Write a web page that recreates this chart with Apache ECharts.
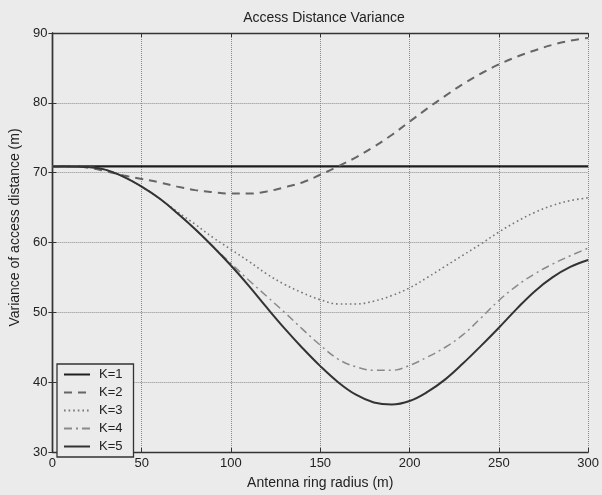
<!DOCTYPE html>
<html>
<head>
<meta charset="utf-8">
<script src="https://cdn.jsdelivr.net/npm/echarts@6/dist/echarts.min.js"></script>
<style>
html,body{margin:0;padding:0;background:#ebebeb;}
#chart{width:602px;height:495px;}
</style>
</head>
<body>
<div id="chart"></div>
<script>
var radius = [0,10,20,30,40,50,60,70,80,90,100,110,120,130,140,150,160,170,180,190,200,210,220,230,240,250,260,270,280,290,300];
var k1 = [70.9,70.9,70.9,70.9,70.9,70.9,70.9,70.9,70.9,70.9,70.9,70.9,70.9,70.9,70.9,70.9,70.9,70.9,70.9,70.9,70.9,70.9,70.9,70.9,70.9,70.9,70.9,70.9,70.9,70.9,70.9];
var k2 = [70.9,70.9,70.7,70.2,69.6,69.1,68.6,68.0,67.5,67.2,67.0,67.0,67.3,67.9,68.6,69.7,70.9,72.2,73.7,75.4,77.3,79.2,81.0,82.7,84.2,85.5,86.6,87.5,88.3,88.9,89.3];
var k3 = [70.9,70.9,70.8,70.4,69.4,68.0,66.3,64.4,62.6,60.7,59.0,57.3,55.5,54.0,52.8,51.8,51.2,51.2,51.6,52.4,53.5,55.0,56.6,58.2,59.8,61.5,63.0,64.3,65.3,66.0,66.4];
var k4 = [70.9,70.9,70.8,70.4,69.4,68.0,66.3,64.2,61.9,59.4,57.0,54.6,52.3,50.0,47.6,45.3,43.3,42.2,41.7,41.7,42.4,43.6,45.0,46.8,49.2,51.7,53.8,55.5,56.9,58.1,59.2];
var k5 = [70.9,70.9,70.8,70.4,69.4,68.0,66.3,64.2,61.9,59.4,56.7,53.8,50.7,47.7,44.9,42.3,40.0,38.2,37.1,36.8,37.3,38.6,40.4,42.7,45.2,47.8,50.5,53.0,55.0,56.5,57.5];
var xTicks = [0,50,100,150,200,250,300];
var yTicks = [30,40,50,60,70,80,90];

function pairs(ys){ return radius.map(function(x,i){ return [x, ys[i]]; }); }

var font = 'Liberation Sans, Arial, Helvetica, sans-serif';
var chart = echarts.init(document.getElementById('chart'), null, {renderer:'canvas'});
var frame = {lineStyle:{color:'#333', width:1.4}};
var tick = {inside:true, length:4, lineStyle:{color:'#333'}};
chart.setOption({
  backgroundColor:'#ebebeb',
  animation:false,
  title:{text:'Access Distance Variance', left:319, top:6, textAlign:'center',
    textStyle:{fontFamily:font, fontSize:14, fontWeight:'normal', color:'#222'}},
  grid:{left:51, right:13, top:33, bottom:38, containLabel:false},
  legend:{orient:'vertical', left:57, top:364, itemWidth:26, itemHeight:12, itemGap:5,
    padding:[4,11,4,6], borderColor:'#333', borderWidth:1.3, backgroundColor:'#ebebeb',
    itemStyle:{opacity:0, borderWidth:0},
    textStyle:{fontFamily:font, fontSize:13, color:'#222', padding:[0,0,0,4]},
    data:['K=1','K=2','K=3','K=4','K=5']},
  xAxis:[{type:'value', min:xTicks[0], max:xTicks[xTicks.length-1], interval:50,
    name:'Antenna ring radius (m)', nameLocation:'middle', nameGap:24,
    nameTextStyle:{fontFamily:font, fontSize:14, color:'#222'},
    axisLine:frame, axisTick:tick,
    axisLabel:{fontFamily:font, fontSize:13, color:'#222', margin:5},
    splitLine:{show:true, lineStyle:{type:'dotted', color:'#8a8a8a', width:1}}},
   {type:'value', position:'top', min:0, max:300, interval:50,
    axisLine:frame, axisTick:tick, axisLabel:{show:false}, splitLine:{show:false}}],
  yAxis:[{type:'value', min:yTicks[0], max:yTicks[yTicks.length-1], interval:10,
    name:'Variance of access distance (m)', nameLocation:'middle', nameGap:27,
    nameTextStyle:{fontFamily:font, fontSize:14, color:'#222', padding:[0,0,0,30]},
    axisLine:frame, axisTick:tick,
    axisLabel:{fontFamily:font, fontSize:13, color:'#222', margin:5},
    splitLine:{show:true, lineStyle:{type:'dotted', color:'#8a8a8a', width:1}}},
   {type:'value', position:'right', min:30, max:90, interval:10,
    axisLine:frame, axisTick:tick, axisLabel:{show:false}, splitLine:{show:false}}],
  series:[
    {name:'K=1', type:'line', data:pairs(k1), symbol:'none', smooth:0.4,
      lineStyle:{color:'#1e1e1e', width:2.2, type:'solid'}, itemStyle:{color:'#1e1e1e'}},
    {name:'K=2', type:'line', data:pairs(k2), symbol:'none', smooth:0.4,
      lineStyle:{color:'#666', width:2, type:[8,6]}, itemStyle:{color:'#666'}},
    {name:'K=3', type:'line', data:pairs(k3), symbol:'none', smooth:0.4,
      lineStyle:{color:'#777', width:1.6, type:[1.6,3]}, itemStyle:{color:'#777'}},
    {name:'K=4', type:'line', data:pairs(k4), symbol:'none', smooth:0.4,
      lineStyle:{color:'#8a8a8a', width:1.5, type:[8,4,2,4]}, itemStyle:{color:'#8a8a8a'}},
    {name:'K=5', type:'line', data:pairs(k5), symbol:'none', smooth:0.4,
      lineStyle:{color:'#333', width:2, type:'solid'}, itemStyle:{color:'#333'}}
  ]
});
</script>
</body>
</html>
